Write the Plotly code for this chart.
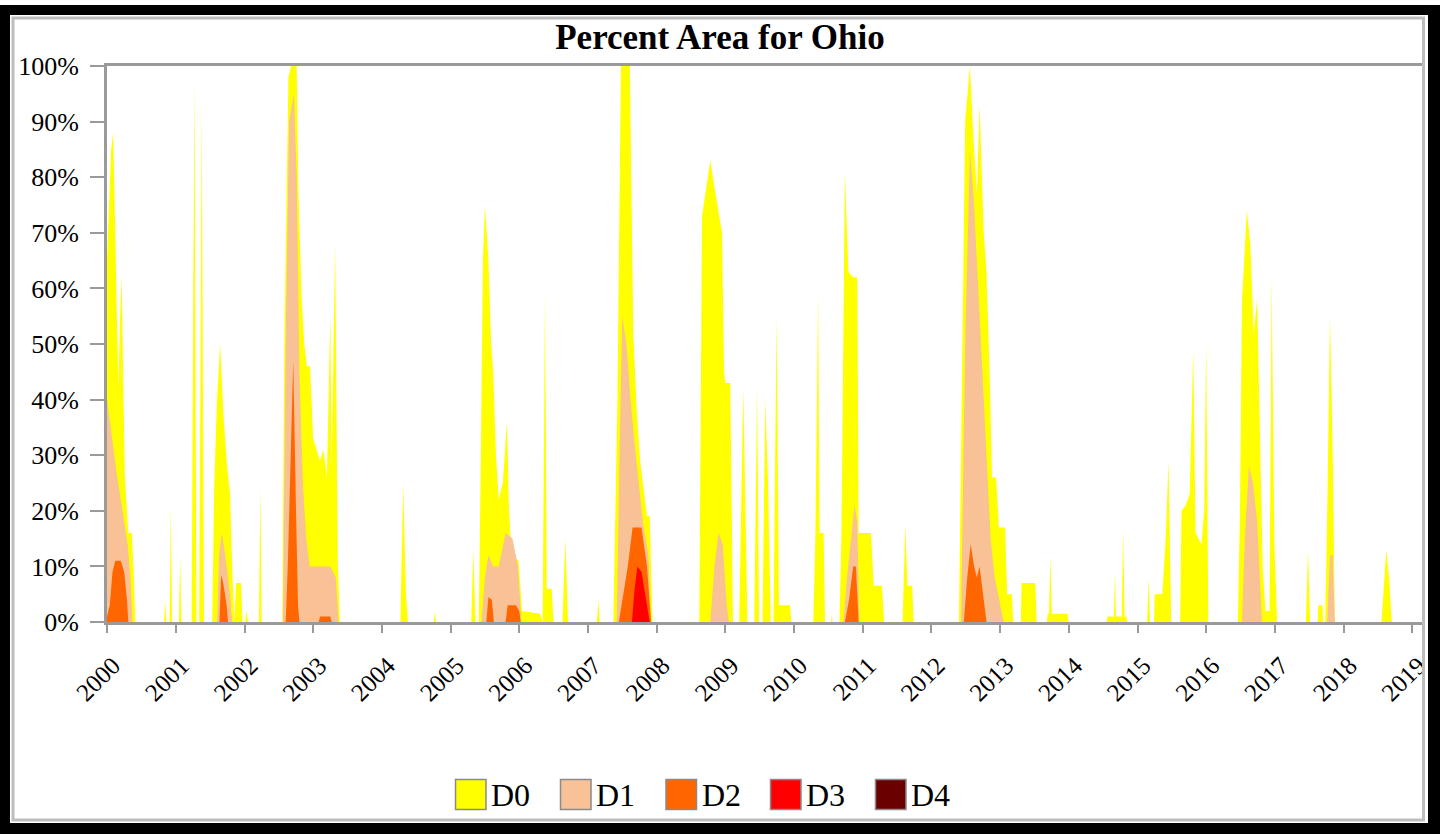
import pandas as pd
import plotly.graph_objects as go

# Drought Monitor categories, cumulative percent of state area.
# Times are fractional years; values are percent of area.
d0_t = [2000.0, 2000.03, 2000.06, 2000.09, 2000.13, 2000.165, 2000.19, 2000.214, 2000.24, 2000.26, 2000.31, 2000.36, 2000.39, 2000.41,
        2000.83, 2000.845, 2000.86, 2000.91, 2000.927, 2000.945, 2001.045, 2001.063, 2001.08,
        2001.23, 2001.27, 2001.30, 2001.34, 2001.377, 2001.41,
        2001.53, 2001.56, 2001.60, 2001.645, 2001.69, 2001.74, 2001.79, 2001.82, 2001.85, 2001.88, 2001.95, 2001.97,
        2002.01, 2002.03, 2002.05, 2002.21, 2002.23, 2002.25,
        2002.55, 2002.58, 2002.64, 2002.68, 2002.76, 2002.785, 2002.83, 2002.87, 2002.91, 2002.955, 2002.98, 2003.0,
        2003.05, 2003.1, 2003.15, 2003.2, 2003.25, 2003.27, 2003.32, 2003.36, 2003.39,
        2004.27, 2004.31, 2004.35, 2004.38, 2004.755, 2004.77, 2004.785,
        2005.30, 2005.33, 2005.36, 2005.41, 2005.44, 2005.47, 2005.50, 2005.55, 2005.59, 2005.62, 2005.66, 2005.70,
        2005.76, 2005.82, 2005.85, 2005.89, 2005.99, 2006.04, 2006.30, 2006.34, 2006.375, 2006.40, 2006.47, 2006.50,
        2006.63, 2006.67, 2006.71, 2007.13, 2007.15, 2007.17,
        2007.37, 2007.39, 2007.43, 2007.48, 2007.61, 2007.66, 2007.71, 2007.76, 2007.86, 2007.90, 2007.94,
        2008.62, 2008.66, 2008.72, 2008.78, 2008.83, 2008.87, 2008.95, 2008.98, 2009.0, 2009.07, 2009.11,
        2009.20, 2009.26, 2009.32, 2009.42, 2009.46, 2009.49, 2009.54, 2009.58, 2009.62, 2009.66, 2009.70, 2009.745,
        2009.78, 2009.94, 2009.96,
        2010.28, 2010.31, 2010.35, 2010.37, 2010.43, 2010.45, 2010.54, 2010.55, 2010.56,
        2010.66, 2010.69, 2010.74, 2010.79, 2010.86, 2010.92, 2010.94, 2011.0, 2011.12, 2011.16, 2011.28, 2011.31,
        2011.58, 2011.62, 2011.65, 2011.72, 2011.74,
        2012.40, 2012.42, 2012.46, 2012.49, 2012.56, 2012.61, 2012.66, 2012.70, 2012.76, 2012.80, 2012.85, 2012.88,
        2012.94, 2012.98, 2013.07, 2013.10, 2013.17, 2013.19,
        2013.30, 2013.31, 2013.51, 2013.53, 2013.68, 2013.69, 2013.71, 2013.73, 2013.75, 2013.98, 2014.0,
        2014.55, 2014.56, 2014.655, 2014.67, 2014.685, 2014.77, 2014.79, 2014.81, 2014.84, 2014.85,
        2015.14, 2015.16, 2015.18, 2015.24, 2015.25, 2015.36, 2015.41, 2015.45, 2015.49,
        2015.62, 2015.64, 2015.70, 2015.76, 2015.81, 2015.845, 2015.93, 2015.97, 2016.0, 2016.03,
        2016.46, 2016.49, 2016.52, 2016.59, 2016.64, 2016.69, 2016.74, 2016.78, 2016.82, 2016.86, 2016.92, 2016.95,
        2016.99, 2017.03,
        2017.45, 2017.48, 2017.51, 2017.62, 2017.63, 2017.69, 2017.70, 2017.73, 2017.76, 2017.80, 2017.84, 2017.87,
        2018.55, 2018.62, 2018.66, 2018.70, 2019.14]
d0_v = [65, 75, 85, 88, 60, 42, 55, 62, 40, 26, 16, 16, 8, 0,
        0, 4, 0, 0, 21, 0, 0, 12, 0,
        0, 98, 0, 0, 93, 0,
        0, 25, 40, 50, 38, 29, 23, 10, 0, 7, 7, 0,
        0, 2, 0, 0, 24, 0,
        0, 50, 98, 100, 100, 78, 59, 50, 46, 46, 38, 33,
        31, 29, 31, 26, 55, 28, 68, 10, 0,
        0, 25, 5, 0, 0, 2, 0,
        0, 13, 0, 0, 30, 65, 75, 65, 50, 45, 30, 22,
        25, 36, 20, 12, 11, 2, 1.5, 0, 59, 6, 6, 0,
        0, 15, 0, 0, 4, 0,
        0, 15, 40, 100, 100, 52, 38, 29, 19, 19, 0,
        0, 73, 78, 83, 79, 76, 70, 45, 43, 43, 0,
        0, 42, 0, 0, 42, 0, 0, 40, 25, 0, 0, 55,
        3, 3, 0,
        0, 16, 59, 16, 16, 0, 0, 1.5, 0,
        0, 16, 81, 63, 62, 62, 16, 16, 16, 6.5, 6.5, 0,
        0, 17.5, 6.5, 6.5, 0,
        0, 20, 60, 90, 100, 87, 77, 93, 70, 63, 43, 26,
        26, 17, 17, 5, 5, 0,
        0, 7, 7, 0, 0, 1.5, 1.5, 12, 1.5, 1.5, 0,
        0, 1, 1, 9, 1, 1, 17, 1, 1, 0,
        0, 8, 0, 0, 5, 5, 15, 29, 0,
        0, 20, 21, 23, 49, 16, 14, 20, 50, 0,
        0, 20, 58, 74, 68, 52, 58, 36, 10, 2, 2, 62,
        14, 0,
        0, 13, 0, 0, 3, 3, 0, 0, 20, 55, 30, 0,
        0, 13, 8, 0, 0]

d1_t = [2000.0, 2000.05, 2000.1, 2000.15, 2000.2, 2000.25, 2000.3, 2000.34, 2000.37,
        2001.60, 2001.63, 2001.67, 2001.72, 2001.78, 2001.82,
        2002.56, 2002.6, 2002.65, 2002.72, 2002.76, 2002.8, 2002.85, 2002.9, 2002.95, 2003.1, 2003.25, 2003.33, 2003.37,
        2005.45, 2005.5, 2005.55, 2005.62, 2005.7, 2005.8, 2005.9, 2005.98, 2006.03,
        2007.42, 2007.46, 2007.5, 2007.56, 2007.62, 2007.68, 2007.74, 2007.8, 2007.88, 2007.92,
        2008.78, 2008.84, 2008.9, 2008.96, 2009.02, 2009.05,
        2010.72, 2010.77, 2010.83, 2010.88, 2010.92, 2010.95,
        2012.43, 2012.49, 2012.56, 2012.62, 2012.68, 2012.74, 2012.80, 2012.86, 2012.92, 2013.0, 2013.05,
        2016.52, 2016.56, 2016.62, 2016.68, 2016.74, 2016.79, 2016.81,
        2017.76, 2017.80, 2017.84, 2017.87, 2019.14]
d1_v = [40, 35, 30, 26, 22, 18, 14, 8, 0,
        0, 12, 16, 12, 6, 0,
        0, 50, 90, 95, 80, 45, 25, 15, 10, 10, 10, 8, 0,
        0, 8, 12, 10, 10, 16, 15, 10, 0,
        0, 30, 55, 50, 40, 32, 25, 18, 12, 0,
        0, 10, 16, 14, 3, 0,
        0, 8, 15, 21, 18, 0,
        0, 50, 85, 75, 60, 45, 30, 15, 8, 3, 0,
        0, 15, 28, 25, 18, 5, 0,
        0, 12, 12, 0, 0]

d2_t = [2000.0, 2000.04, 2000.08, 2000.12, 2000.2, 2000.25, 2000.29, 2000.31,
        2001.635, 2001.66, 2001.69, 2001.74, 2001.76,
        2002.6, 2002.63, 2002.67, 2002.71, 2002.75, 2002.78, 2002.8, 2003.08, 2003.1, 2003.25, 2003.27,
        2005.52, 2005.55, 2005.6, 2005.63, 2005.8, 2005.83, 2005.95, 2006.0, 2006.02,
        2007.45, 2007.5, 2007.58, 2007.65, 2007.78, 2007.86, 2007.92,
        2010.74, 2010.8, 2010.86, 2010.9, 2010.94,
        2012.47, 2012.52, 2012.57, 2012.62, 2012.66, 2012.70, 2012.74, 2012.78, 2012.80, 2019.14]
d2_v = [1, 3, 9, 11, 11, 9, 4, 0,
        0, 8.5, 7, 3, 0,
        0, 10, 30, 47, 20, 3, 0, 0, 1, 1, 0,
        0, 4.5, 4, 0, 0, 3, 3, 2, 0,
        0, 4, 10, 17, 17, 10, 0,
        0, 4, 10, 10, 0,
        0, 8, 14, 10, 8, 10, 6, 2, 0, 0]

d3_t = [2000.0, 2007.64, 2007.68, 2007.72, 2007.78, 2007.85, 2007.9, 2019.14]
d3_v = [0, 0, 6, 10, 9, 4, 0, 0]

d4_t = [2000.0, 2019.14]
d4_v = [0, 0]

categories = ["D0", "D1", "D2", "D3", "D4"]
colors = ["#FFFF00", "#F9C196", "#FF6600", "#FF0000", "#6B0000"]
years = list(range(2000, 2020))


def to_date(fy):
    y = int(fy)
    start = pd.Timestamp(y, 1, 1)
    ndays = (pd.Timestamp(y + 1, 1, 1) - start).days
    return start + pd.Timedelta(days=(fy - y) * ndays)


fig = go.Figure()
series = [(d0_t, d0_v), (d1_t, d1_v), (d2_t, d2_v), (d3_t, d3_v), (d4_t, d4_v)]
for name, col, (t, v) in zip(categories, colors, series):
    fig.add_trace(go.Scatter(
        x=[to_date(a) for a in t], y=v, name=name, mode="lines",
        line=dict(width=0, color=col), fill="tozeroy", fillcolor=col,
        hoverinfo="x+y+name",
    ))

# pixel layout of the plot area
W, H = 1440, 834
L, R, T, B = 107, 1422, 66, 622


def px(x):
    return (x - L) / (R - L)


def py(y):
    return (B - y) / (B - T)


serif = "Liberation Serif, Times New Roman, serif"
axis_grey = "#9a9a9a"

fig.update_layout(
    width=W, height=H,
    margin=dict(l=L, r=W - R, t=T, b=H - B, pad=0, autoexpand=False),
    paper_bgcolor="white", plot_bgcolor="white",
    showlegend=False,
    title=dict(text="<b>Percent Area for Ohio</b>", x=0.5, xref="container", xanchor="center",
               y=1 - 37 / H, yref="container", yanchor="middle",
               font=dict(family=serif, size=35, color="black")),
    font=dict(family=serif, color="black"),
)

fig.update_xaxes(
    type="date", range=[to_date(2000.0), to_date(2019.14)], automargin=False,
    tickmode="array", tickvals=[pd.Timestamp(y, 1, 1) for y in years], ticktext=[str(y) for y in years],
    tickangle=-45, ticks="outside", ticklen=8, tickwidth=2, tickcolor=axis_grey,
    showline=True, linecolor=axis_grey, linewidth=3, mirror=True,
    showgrid=False, zeroline=False, ticklabelstandoff=8, ticklabelshift=6,
    tickfont=dict(family=serif, size=25, color="black"),
)
fig.update_yaxes(
    range=[0, 100], automargin=False, tickmode="array", tickvals=list(range(0, 101, 10)),
    ticktext=[f"{v}%" for v in range(0, 101, 10)],
    ticks="outside", ticklen=14, tickwidth=2, tickcolor=axis_grey,
    showline=True, linecolor=axis_grey, linewidth=3,
    showgrid=False, zeroline=False, ticklabelstandoff=6,
    tickfont=dict(family=serif, size=26, color="black"),
)

shapes = []
# black outer border and light inner frame
for x0, y0, x1, y1 in [(0, 5, 10, H), (0, 5, W, 15), (1428, 5, W, H), (0, 823, W, H)]:
    shapes.append(dict(type="rect", xref="paper", yref="paper", x0=px(x0), x1=px(x1), y0=py(y0), y1=py(y1),
                       fillcolor="black", line=dict(width=0), layer="above"))
shapes.append(dict(type="rect", xref="paper", yref="paper", x0=px(13), x1=px(1423.5), y0=py(18), y1=py(820),
                   fillcolor="rgba(0,0,0,0)", line=dict(color="#bdbdbd", width=3), layer="above"))

# legend: swatches with labels along the bottom
annotations = []
swatch_left = [455.5, 560.5, 666, 770.5, 875.5]
for name, col, x0 in zip(categories, colors, swatch_left):
    shapes.append(dict(type="rect", xref="paper", yref="paper", x0=px(x0), x1=px(x0 + 30.5),
                       y0=py(779.5), y1=py(809.5), fillcolor=col, line=dict(color="#8a8a8a", width=1.5),
                       layer="above"))
    annotations.append(dict(text=name, xref="paper", yref="paper", x=px(x0 + 33.5), y=py(795),
                            xanchor="left", yanchor="middle", showarrow=False,
                            font=dict(family=serif, size=32, color="black")))

fig.update_layout(shapes=shapes, annotations=annotations)
fig.write_html("out.html")
